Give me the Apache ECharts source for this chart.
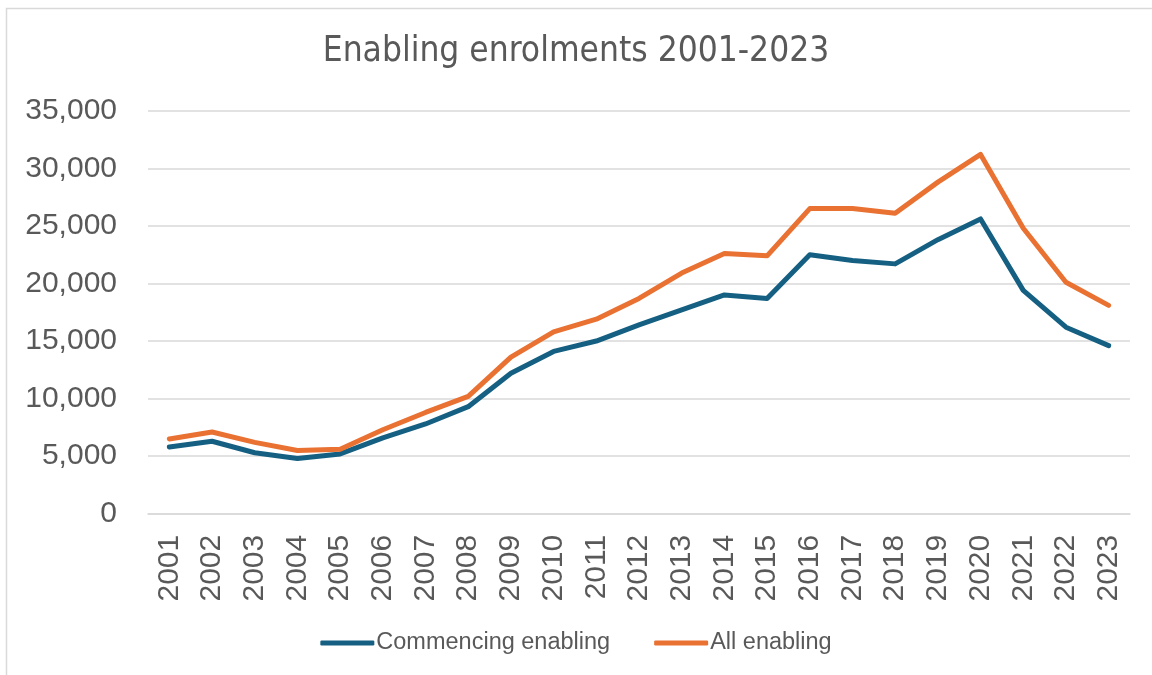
<!DOCTYPE html>
<html>
<head>
<meta charset="utf-8">
<title>Enabling enrolments 2001-2023</title>
<script src="https://cdn.jsdelivr.net/npm/echarts@6/dist/echarts.min.js"></script>
<style>
  html, body { margin: 0; padding: 0; background: #ffffff; }
  #chart { width: 1152px; height: 675px; }
</style>
</head>
<body>
<div id="chart"></div>
<script>
// Enrolment years
const years = ['2001','2002','2003','2004','2005','2006','2007','2008','2009','2010','2011','2012',
               '2013','2014','2015','2016','2017','2018','2019','2020','2021','2022','2023'];

// Commencing enabling students
const commencing = [5800, 6300, 5300, 4800, 5200, 6600, 7800, 9300, 12200, 14100, 15000, 16400,
                    17700, 19000, 18700, 22500, 22000, 21700, 23800, 25600, 19400, 16200, 14600];

// All enabling students
const allEnabling = [6500, 7100, 6200, 5500, 5600, 7300, 8800, 10200, 13600, 15800, 16900, 18700,
                     20900, 22600, 22400, 26500, 26500, 26100, 28800, 31200, 24800, 20100, 18100];

const seriesNames = ['Commencing enabling', 'All enabling'];
const titleText = 'Enabling enrolments 2001-2023';

const textGrey = '#595959';
const gridGrey = '#d9d9d9';
const blue = '#156082';
const orange = '#E97132';

const chart = echarts.init(document.getElementById('chart'), null, { renderer: 'canvas' });

chart.setOption({
  backgroundColor: '#ffffff',
  animation: false,
  graphic: [{
    type: 'rect',
    shape: { x: 6.5, y: 8.5, width: 1200, height: 700 },
    style: { fill: null, stroke: gridGrey, lineWidth: 1.5 },
    silent: true
  }],
  title: {
    text: titleText,
    left: 'center',
    top: 29,
    textStyle: {
      fontFamily: '"Liberation Sans Narrow", "DejaVu Sans Condensed", sans-serif',
      fontSize: 35,
      fontWeight: 'normal',
      color: textGrey
    }
  },
  legend: {
    data: seriesNames,
    bottom: 15,
    left: 'center',
    itemWidth: 54,
    itemHeight: 5,
    itemGap: 44,
    icon: 'roundRect',
    textStyle: {
      fontFamily: '"Liberation Sans", Arial, sans-serif',
      fontSize: 23.5,
      color: textGrey,
      padding: [0, 0, 0, -3]
    }
  },
  grid: {
    left: 148,
    right: 22,
    top: 110.7,
    bottom: 161.2,
    containLabel: false
  },
  xAxis: {
    type: 'category',
    data: years,
    boundaryGap: true,
    axisLine: { show: true, lineStyle: { color: gridGrey, width: 1.5 } },
    axisTick: { show: false },
    axisLabel: {
      rotate: 90,
      margin: 21,
      fontFamily: '"Liberation Sans", Arial, sans-serif',
      fontSize: 30,
      color: textGrey
    }
  },
  yAxis: {
    type: 'value',
    min: 0,
    max: 35000,
    interval: 5000,
    axisLine: { show: false },
    axisTick: { show: false },
    splitLine: { show: true, lineStyle: { color: gridGrey, width: 1.5 } },
    axisLabel: {
      margin: 31,
      fontFamily: '"Liberation Sans", Arial, sans-serif',
      fontSize: 30,
      color: textGrey,
      formatter: v => v.toLocaleString('en-US')
    }
  },
  series: [
    {
      name: seriesNames[0],
      type: 'line',
      data: commencing,
      symbol: 'none',
      smooth: false,
      lineStyle: { color: blue, width: 5, cap: 'round', join: 'round' },
      itemStyle: { color: blue }
    },
    {
      name: seriesNames[1],
      type: 'line',
      data: allEnabling,
      symbol: 'none',
      smooth: false,
      lineStyle: { color: orange, width: 5, cap: 'round', join: 'round' },
      itemStyle: { color: orange }
    }
  ]
});
</script>
</body>
</html>
